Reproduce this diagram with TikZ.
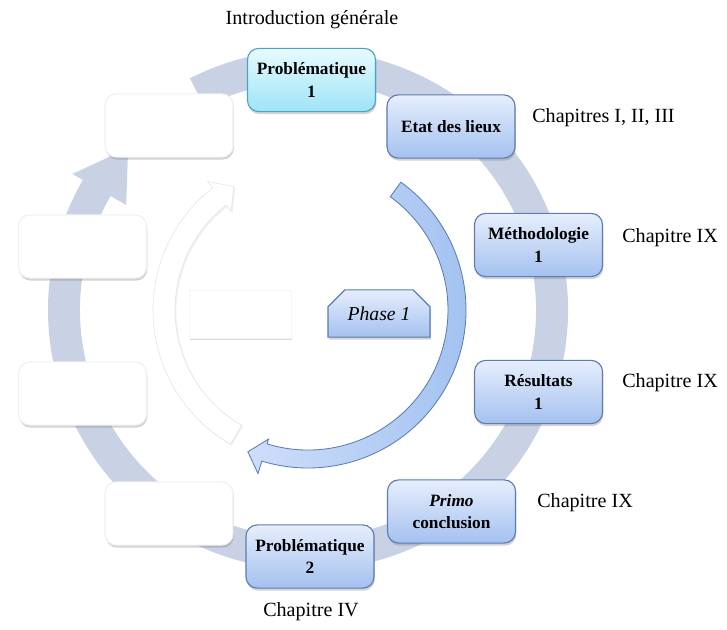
\documentclass[tikz,border=0pt]{standalone}
\usepackage{fontspec}
\setmainfont{Liberation Serif}
\usetikzlibrary{calc,shadows,shapes.misc}
\definecolor{ringgray}{RGB}{200,210,228}
\definecolor{boxtop}{RGB}{230,238,252}
\definecolor{boxbot}{RGB}{164,193,240}
\definecolor{boxline}{RGB}{92,124,178}
\definecolor{cyantop}{RGB}{232,251,255}
\definecolor{cyanbot}{RGB}{158,228,247}
\definecolor{cyanline}{RGB}{74,164,192}
\definecolor{arcblue}{RGB}{160,192,240}
\definecolor{arclite}{RGB}{206,222,249}
\tikzset{
  stage/.style={draw=boxline, line width=0.8pt, rounded corners=8pt,
    top color=boxtop, bottom color=boxbot, minimum width=3.2cm, minimum height=1.58cm,
    align=center, font=\fontsize{12.3}{16}\selectfont\bfseries,
    drop shadow={shadow xshift=0.6pt, shadow yshift=-1.8pt, opacity=0.35}},
  blank/.style={stage, draw=gray!12, top color=white, bottom color=white},
  chap/.style={font=\fontsize{14.3}{17}\selectfont, inner sep=0pt, anchor=west},
}

\begin{document}
\begin{tikzpicture}[x=0.025cm, y=0.025cm]
			%%%%% START %%%%%
			\useasboundingbox (0,0) rectangle (727,629);
			\coordinate (ctr) at (308,319);
			
			% big ring with its arrow head
			\begin{scope}[shift={(ctr)}]
			\fill[ringgray] (117:260) arc[start angle=117, end angle=-210, radius=260]
			  -- (-210:272) -- (-222:242) -- (-210:210) -- (-210:228)
			  arc[start angle=-210, end angle=117, radius=228] -- cycle;
			
			% inner white arrow
			\draw[gray!22, fill=white, drop shadow={opacity=0.12, shadow xshift=1pt, shadow yshift=-1pt}]
			  (240:155) arc[start angle=240, end angle=128, radius=155]
			  -- (128:163) -- (121:144) -- (128:125) -- (128:133)
			  arc[start angle=128, end angle=240, radius=133] -- cycle;
			
			% inner blue arrow
			\draw[boxline, line width=0.6pt, left color=arclite, right color=arcblue]
			  (54:158) arc[start angle=54, end angle=-107, radius=158]
			  -- (-107:171) -- (-113:154) -- (-107:135) -- (-107:140)
			  arc[start angle=-107, end angle=54, radius=140] -- cycle;
			\end{scope}
			
			% boxes
			\node[stage, draw=cyanline, top color=cyantop, bottom color=cyanbot] (prob1) at (311.5,549) {Problématique\\1};
			\node[stage] (etat) at (451,502.5) {Etat des lieux};
			\node[stage] (metho) at (538.5,384) {Méthodologie\\1};
			\node[stage] (resul) at (538.5,237) {Résultats\\1};
			\node[stage] (primo) at (451.5,117.5) {\textit{Primo}\\conclusion};
			\node[stage] (prob2) at (310,72.5) {Problématique\\2};
			
			\node[blank] (blankA) at (169,503.5) {};
			\node[blank] (blankB) at (82.5,382.5) {};
			\node[blank] (blankC) at (82.5,235.5) {};
			\node[blank] (blankD) at (169,115.5) {};
			
			\node[draw=gray!8, fill=white, minimum width=2.55cm, minimum height=1.2cm,
			  drop shadow={opacity=0.3, shadow xshift=0.5pt, shadow yshift=-1.5pt}] (centre) at (240,315) {};
			\node[stage, rounded corners=0pt, chamfered rectangle, chamfered rectangle corners={north west,north east},
			  chamfered rectangle xsep=6pt, chamfered rectangle ysep=6pt, minimum width=2.55cm, minimum height=1.18cm,
			  font=\fontsize{14}{16}\selectfont\itshape] (phase) at (379,315.5) {Phase 1};
			
			% chapters
			\node[font=\fontsize{14.3}{17}\selectfont, inner sep=0pt] (intro) at (312,609) {Introduction générale};
			\node[chap] (chapA) at (532,511) {Chapitres I, II, III};
			\node[chap] (chapB) at (622,391) {Chapitre IX};
			\node[chap] (chapC) at (622,246) {Chapitre IX};
			\node[chap] (chapD) at (537,126) {Chapitre IX};
			\node[font=\fontsize{14.3}{17}\selectfont, inner sep=0pt] (chapE) at (311,17) {Chapitre IV};
			%%%%% END %%%%%
\end{tikzpicture}
\end{document}
